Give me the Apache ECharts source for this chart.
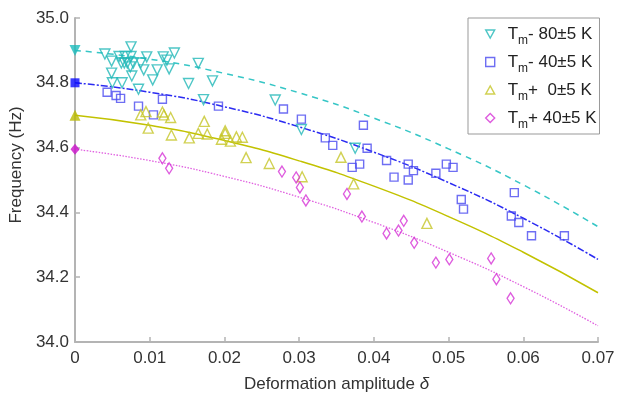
<!DOCTYPE html>
<html>
<head>
<meta charset="utf-8">
<script src="https://cdn.jsdelivr.net/npm/echarts@6/dist/echarts.min.js"></script>
<style>
  html, body { margin: 0; padding: 0; background: #fff; }
  #chart { width: 619px; height: 396px; }
</style>
</head>
<body>
<div id="chart"></div>
<script>
// fitted curves, read at every 0.01 of deformation
const fitDelta = [0, 0.01, 0.02, 0.03, 0.04, 0.05, 0.06, 0.07];
const fitCyan = [34.900, 34.873, 34.829, 34.769, 34.691, 34.596, 34.485, 34.356];
const fitBlue = [34.800, 34.771, 34.726, 34.664, 34.586, 34.492, 34.382, 34.255];
const fitYellow = [34.700, 34.669, 34.622, 34.559, 34.481, 34.387, 34.277, 34.152];
const fitMagenta = [34.595, 34.560, 34.511, 34.447, 34.369, 34.277, 34.171, 34.050];

// measured points [delta, frequency]
const ptsCyan = [
  [0.0040, 34.889], [0.0049, 34.867], [0.0059, 34.881], [0.0067, 34.881], [0.0075, 34.881],
  [0.0062, 34.861], [0.0066, 34.861], [0.0070, 34.861], [0.0078, 34.861], [0.0088, 34.861],
  [0.0096, 34.880], [0.0074, 34.849], [0.0075, 34.911], [0.0092, 34.840], [0.0110, 34.840],
  [0.0126, 34.843], [0.0118, 34.880], [0.0123, 34.870], [0.0133, 34.892], [0.0049, 34.830],
  [0.0076, 34.821], [0.0104, 34.809], [0.0050, 34.800], [0.0063, 34.800], [0.0085, 34.780],
  [0.0152, 34.798], [0.0165, 34.860], [0.0184, 34.806], [0.0172, 34.748], [0.0268, 34.747],
  [0.0303, 34.656], [0.0375, 34.598]
];
const ptsBlue = [
  [0.0043, 34.771], [0.0055, 34.761], [0.0061, 34.752], [0.0085, 34.728], [0.0105, 34.701],
  [0.0117, 34.749], [0.0192, 34.728], [0.0279, 34.719], [0.0303, 34.688], [0.0335, 34.630],
  [0.0345, 34.607], [0.0386, 34.669], [0.0391, 34.598], [0.0381, 34.549], [0.0371, 34.539],
  [0.0417, 34.560], [0.0427, 34.509], [0.0446, 34.549], [0.0453, 34.529], [0.0446, 34.500],
  [0.0483, 34.521], [0.0497, 34.549], [0.0506, 34.539], [0.0517, 34.440], [0.0520, 34.410],
  [0.0588, 34.461], [0.0584, 34.389], [0.0594, 34.369], [0.0611, 34.328], [0.0655, 34.328]
];
const ptsYellow = [
  [0.0088, 34.701], [0.0095, 34.711], [0.0117, 34.710], [0.0119, 34.701], [0.0128, 34.693],
  [0.0098, 34.660], [0.0129, 34.639], [0.0153, 34.630], [0.0165, 34.644], [0.0173, 34.681],
  [0.0177, 34.642], [0.0201, 34.652], [0.0201, 34.644], [0.0196, 34.626], [0.0208, 34.620],
  [0.0216, 34.633], [0.0224, 34.632], [0.0229, 34.569], [0.0260, 34.551], [0.0304, 34.510],
  [0.0356, 34.570], [0.0373, 34.488], [0.0471, 34.366]
];
const ptsMagenta = [
  [0.0117, 34.567], [0.0126, 34.536], [0.0277, 34.526], [0.0296, 34.508], [0.0301, 34.477],
  [0.0309, 34.437], [0.0364, 34.457], [0.0384, 34.387], [0.0417, 34.335], [0.0433, 34.344],
  [0.0440, 34.374], [0.0454, 34.306], [0.0483, 34.245], [0.0501, 34.255], [0.0557, 34.258],
  [0.0564, 34.194], [0.0583, 34.135]
];

const names = ['Tm- 80±5 K', 'Tm- 40±5 K', 'Tm+  0±5 K', 'Tm+ 40±5 K'];
const xTicks = [0, 0.01, 0.02, 0.03, 0.04, 0.05, 0.06, 0.07];

const downTri = 'path://M0,0L10,0L5,9Z';
const upTri = 'path://M5,0L10,9L0,9Z';
const markColors = ['#22b8b8', '#4a4af0', '#c6c628', '#d633d6'];
const symbols = [downTri, 'rect', upTri, 'diamond'];
const sizes = [10, 8, 10, [7, 11]];
const fits = [fitCyan, fitBlue, fitYellow, fitMagenta];
const fitColors = ['#36c6c6', '#2b2bf2', '#c2c200', '#e060e0'];
const fitTypes = [[6, 5], [7, 2, 2, 2], 'solid', [1.5, 1.5]];
const startColors = ['#1cbcbc', '#0a0aff', '#bcbc00', '#cc10cc'];
const points = [ptsCyan, ptsBlue, ptsYellow, ptsMagenta];

const font = "'Liberation Sans', Arial, sans-serif";
const axisGray = '#b4b4b4';

const series = [];
fits.forEach((f, i) => {
  series.push({
    type: 'line',
    name: 'fit' + i,
    data: fitDelta.map((d, k) => [d, f[k]]),
    smooth: true,
    showSymbol: false,
    silent: true,
    lineStyle: { color: fitColors[i], width: i === 3 ? 1.3 : 1.5, type: fitTypes[i] },
    z: 2
  });
});
points.forEach((p, i) => {
  series.push({
    type: 'scatter',
    name: names[i],
    data: p,
    symbol: symbols[i],
    symbolSize: sizes[i],
    itemStyle: { color: 'rgba(0,0,0,0)', borderColor: markColors[i], borderWidth: 1.4 },
    z: 3
  });
});
series.push({
  type: 'scatter',
  name: 'start',
  clip: false,
  data: fits.map((f, i) => ({
    value: [0, f[0]],
    symbol: symbols[i],
    symbolSize: i === 1 ? 9 : (i === 3 ? [9, 11] : 11),
    itemStyle: { color: startColors[i] }
  })),
  z: 4
});

const chart = echarts.init(document.getElementById('chart'));
chart.setOption({
  animation: false,
  textStyle: { fontFamily: font },
  grid: { left: 75, right: 21, top: 18, bottom: 54, outerBoundsMode: 'none' },
  legend: {
    orient: 'vertical',
    left: 468,
    top: 18,
    padding: [3, 3, 3, 17],
    itemGap: 2,
    itemWidth: 9,
    itemHeight: 9,
    backgroundColor: '#fff',
    borderColor: '#999',
    borderWidth: 1,
    borderRadius: 0,
    data: names.map((n, i) => ({
      name: n,
      icon: symbols[i],
      itemStyle: { color: 'rgba(0,0,0,0)', borderColor: markColors[i], borderWidth: 1.4 }
    })),
    formatter: (name) => '{t|T}{sub|m}{t|' + name.slice(2) + '}',
    textStyle: {
      padding: [0, 0, 0, 8],
      rich: {
        t: { fontSize: 17, lineHeight: 16, color: '#222', fontFamily: font },
        sub: { fontSize: 12, lineHeight: 16, padding: [14, 0, 0, 0], color: '#222', fontFamily: font }
      }
    }
  },
  xAxis: {
    type: 'value',
    min: 0,
    max: 0.07,
    interval: 0.01,
    name: 'Deformation amplitude {i|δ}',
    nameLocation: 'middle',
    nameGap: 34,
    nameTextStyle: {
      fontSize: 17, color: '#333',
      rich: { i: { fontSize: 17, fontStyle: 'italic', color: '#333' } }
    },
    axisLine: { onZero: false, lineStyle: { color: axisGray, width: 2 } },
    axisTick: { inside: true, length: 5, lineStyle: { color: axisGray, width: 1.5 } },
    axisLabel: {
      fontSize: 17, color: '#333', margin: 8,
      formatter: (v) => {
        const t = xTicks.find((x) => Math.abs(x - v) < 1e-9);
        return t === 0 ? '0' : (t !== undefined ? t.toFixed(2) : '');
      }
    },
    splitLine: { show: false }
  },
  yAxis: {
    type: 'value',
    min: 34,
    max: 35,
    interval: 0.2,
    name: 'Frequency (Hz)',
    nameLocation: 'middle',
    nameGap: 42,
    nameTextStyle: { fontSize: 17, color: '#333', padding: [0, 0, 0, 30] },
    axisLine: { show: true, lineStyle: { color: axisGray, width: 2 } },
    axisTick: { show: true, inside: true, length: 5, lineStyle: { color: axisGray, width: 1.5 } },
    axisLabel: { fontSize: 17, color: '#333', margin: 6, formatter: (v) => v.toFixed(1) },
    splitLine: { show: false }
  },
  series: series
});
</script>
</body>
</html>
